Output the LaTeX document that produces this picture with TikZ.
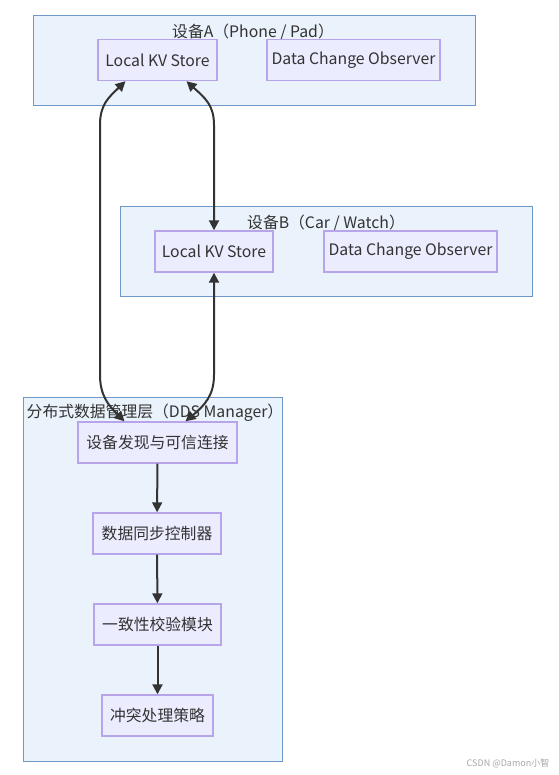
\documentclass[tikz,border=0pt]{standalone}
\usepackage{fontspec}
\setmainfont{Noto Sans CJK SC}
\usepackage{tikz}
\usetikzlibrary{positioning}
\usetikzlibrary{arrows.meta}

\definecolor{grpfill}{RGB}{234,242,252}
\definecolor{grpline}{RGB}{110,152,200}
\definecolor{boxfill}{RGB}{236,236,255}
\definecolor{boxline}{RGB}{184,164,232}
\definecolor{ink}{RGB}{51,51,51}

\begin{document}
\begin{tikzpicture}[x=1pt,y=-1pt,
    font=\fontsize{15.8}{18}\selectfont,
    grp/.style={draw=grpline,fill=grpfill,line width=1.2pt,anchor=north west,inner sep=0pt},
    box/.style={draw=boxline,fill=boxfill,line width=1.4pt,minimum height=41pt,inner sep=0pt,text=ink},
    title/.style={text=ink,inner sep=0pt},
    link/.style={draw=ink,line width=2pt,-{Triangle[length=10pt,width=10pt]}},
    biarrow/.style={draw=ink,line width=2pt,{Triangle[length=10pt,width=10pt]}-{Triangle[length=10pt,width=10pt]}}]
    % Parameters -- x of the vertical link columns
    \pgfmathsetmacro{\colL}{100}
    \pgfmathsetmacro{\colR}{214}

    \useasboundingbox (0,0) rectangle (558,775);

    % Device A
    \node[grp,minimum width=442pt,minimum height=90pt] (grpA) at (33,15) {};
    \node[title] (titleA) at (253,32) {设备A（Phone / Pad）};
    \node[box,minimum width=119pt] (kvA) at (157.5,60) {Local KV Store};
    \node[box,minimum width=173pt] (obsA) at (353.5,60) {Data Change Observer};

    % Device B
    \node[grp,minimum width=412pt,minimum height=90pt] (grpB) at (120,206) {};
    \node[title] (titleB) at (326,223) {设备B（Car / Watch）};
    \node[box,minimum width=118pt] (kvB) at (214,251.5) {Local KV Store};
    \node[box,minimum width=173pt] (obsB) at (410.5,251.5) {Data Change Observer};

    % DDS manager layer
    \node[grp,minimum width=259pt,minimum height=364pt] (grpDDS) at (23,397) {};
    \node[title] (titleDDS) at (155,413) {分布式数据管理层（DDS Manager）};
    \node[box,minimum width=159pt] (disc) at (157.5,442.5) {设备发现与可信连接};
    \node[box,minimum width=128pt] (sync) at (157,533.5) {数据同步控制器};
    \node[box,minimum width=127pt] (check) at (157.5,624.5) {一致性校验模块};
    \node[box,minimum width=111pt] (conflict) at (157.5,715.5) {冲突处理策略};

    % Chain inside the layer
    \draw[link] (disc) -- (sync);
    \draw[link] (sync) -- (check);
    \draw[link] (check) -- (conflict);

    % Links between devices and the layer
    \draw[biarrow] ([xshift=-32pt]kvA.south) .. controls (108,98) and (\colL,105) .. (\colL,125)
        -- (\colL,375) .. controls (\colL,395) and (108,405) .. ([xshift=-33pt]disc.north);
    \draw[biarrow] ([xshift=29pt]kvA.south) .. controls (205,98) and (\colR,105) .. (\colR,125)
        -- (kvB.north);
    \draw[biarrow] (kvB.south) -- (\colR,375) .. controls (\colR,395) and (205,405)
        .. ([xshift=28pt]disc.north);

    % Watermark
    \node[text=black!35,font=\fontsize{9}{11}\selectfont] (mark) at (508,763) {CSDN @Damon小智};
\end{tikzpicture}
\end{document}
